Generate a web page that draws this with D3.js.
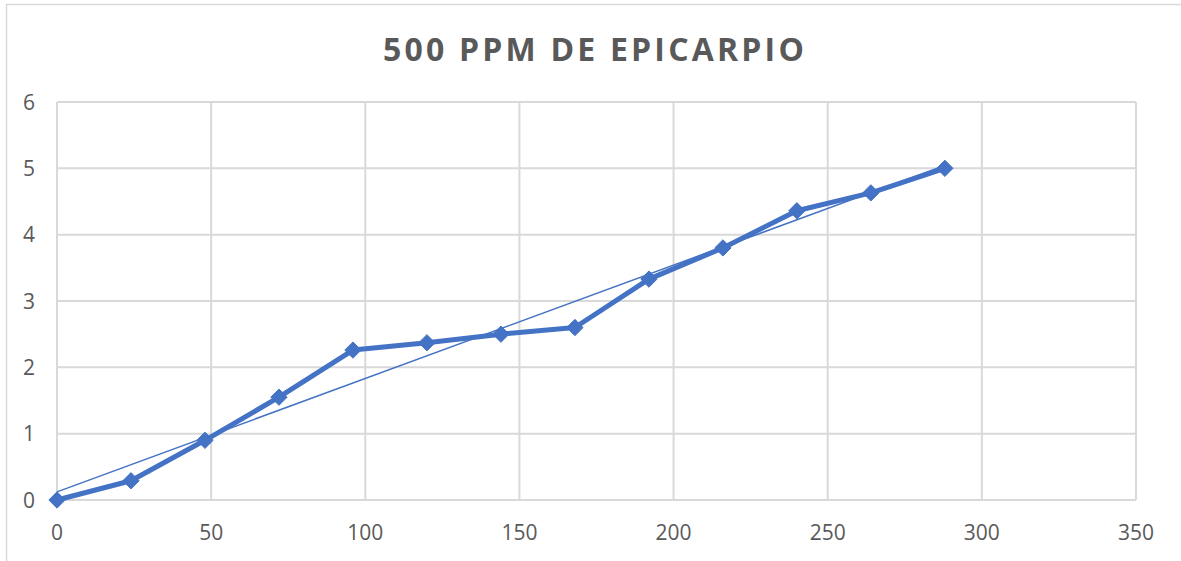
<!DOCTYPE html>
<html>
<head>
<meta charset="utf-8">
<script src="https://cdn.jsdelivr.net/npm/d3@7"></script>
<style>
    body { margin: 0; background: #fff; }
    .tick-label { font-family: "Open Sans", "Noto Sans", sans-serif; font-size: 21px; fill: #595959; }
    .chart-title { font-family: "Open Sans", "Noto Sans", sans-serif; font-size: 32px; font-weight: 700; fill: #595959; letter-spacing: 3.2px; }
</style>
</head>
<body>
<div id="chart"></div>
<script>
const hours = [0, 24, 48, 72, 96, 120, 144, 168, 192, 216, 240, 264, 288];
const values = [0, 0.29, 0.9, 1.55, 2.26, 2.37, 2.5, 2.6, 3.33, 3.8, 4.36, 4.63, 5.0];
const xTicks = [0, 50, 100, 150, 200, 250, 300, 350];
const yTicks = [0, 1, 2, 3, 4, 5, 6];
const title = "500 PPM DE EPICARPIO";

function createChart() {
    const width = 1181;
    const height = 561;
    const margin = { top: 102, right: 45, bottom: 61, left: 57 };
    const blue = "#4472C4";
    const grid = "#d9d9d9";

    const svg = d3.select("#chart")
        .append("svg")
        .attr("width", width)
        .attr("height", height);

    // outer chart frame (cropped on the right and bottom)
    svg.append("path")
        .attr("d", `M6.5,${height} V4.5 H${width}`)
        .attr("fill", "none")
        .attr("stroke", grid)
        .attr("stroke-width", 1.5);

    const x = d3.scaleLinear().domain([0, 350]).range([margin.left, width - margin.right]);
    const y = d3.scaleLinear().domain([0, 6]).range([height - margin.bottom, margin.top]);

    // gridlines
    svg.append("g")
        .selectAll("line")
        .data(xTicks)
        .enter().append("line")
        .attr("x1", d => x(d)).attr("x2", d => x(d))
        .attr("y1", y(0)).attr("y2", y(6))
        .attr("stroke", grid).attr("stroke-width", 2);

    svg.append("g")
        .selectAll("line")
        .data(yTicks)
        .enter().append("line")
        .attr("x1", x(0)).attr("x2", x(350))
        .attr("y1", d => y(d)).attr("y2", d => y(d))
        .attr("stroke", grid).attr("stroke-width", 2);

    // tick labels
    svg.append("g")
        .selectAll("text")
        .data(xTicks)
        .enter().append("text")
        .attr("class", "tick-label")
        .attr("x", d => x(d))
        .attr("y", y(0) + 40)
        .attr("text-anchor", "middle")
        .text(d => d);

    svg.append("g")
        .selectAll("text")
        .data(yTicks)
        .enter().append("text")
        .attr("class", "tick-label")
        .attr("x", 35)
        .attr("y", d => y(d))
        .attr("dy", "0.36em")
        .attr("text-anchor", "end")
        .text(d => d);

    // title
    svg.append("text")
        .attr("class", "chart-title")
        .attr("x", 595)
        .attr("y", 61)
        .attr("text-anchor", "middle")
        .text(title);

    const data = hours.map((h, i) => ({ x: h, y: values[i] }));

    // linear trendline (least squares)
    const mx = d3.mean(hours);
    const my = d3.mean(values);
    const slope = d3.sum(data, d => (d.x - mx) * (d.y - my)) / d3.sum(data, d => (d.x - mx) ** 2);
    const intercept = my - slope * mx;
    const x0 = d3.min(hours), x1 = d3.max(hours);

    svg.append("line")
        .attr("x1", x(x0)).attr("y1", y(intercept + slope * x0))
        .attr("x2", x(x1)).attr("y2", y(intercept + slope * x1))
        .attr("stroke", blue)
        .attr("stroke-width", 1.5);

    const line = d3.line()
        .x(d => x(d.x))
        .y(d => y(d.y));

    svg.append("path")
        .datum(data)
        .attr("d", line)
        .attr("fill", "none")
        .attr("stroke", blue)
        .attr("stroke-width", 5)
        .attr("stroke-linejoin", "round");

    const diamond = d3.symbol().type(d3.symbolDiamond2).size(170);

    svg.append("g")
        .selectAll("path")
        .data(data)
        .enter().append("path")
        .attr("d", diamond)
        .attr("transform", d => `translate(${x(d.x)},${y(d.y)})`)
        .attr("fill", blue)
        .attr("stroke", blue)
        .attr("stroke-width", 1);
}

createChart();
</script>
</body>
</html>
